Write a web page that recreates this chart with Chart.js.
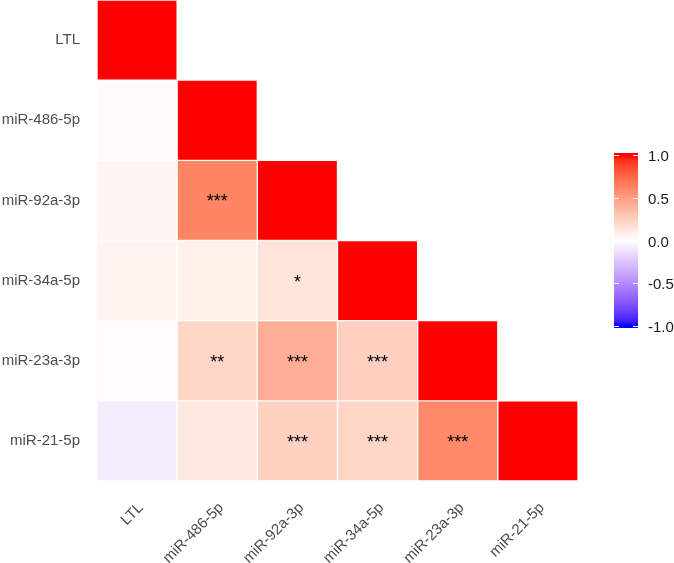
<!DOCTYPE html>
<html>
<head>
<meta charset="utf-8">
<script src="https://cdn.jsdelivr.net/npm/chart.js@4.4.1/dist/chart.umd.min.js"></script>
<style>
  html, body { margin: 0; padding: 0; background: #fff; }
  #wrap { width: 674px; height: 563px; position: relative; }
</style>
</head>
<body>
<div id="wrap"><canvas id="chartCorr"></canvas></div>
<script>
// variáveis (linhas de cima para baixo, colunas da esquerda para a direita)
const VARS = ['LTL', 'miR-486-5p', 'miR-92a-3p', 'miR-34a-5p', 'miR-23a-3p', 'miR-21-5p'];

// correlações do triângulo inferior, uma linha por variável
const R_LTL   = [1];
const R_486   = [0.03, 1];
const R_92A   = [0.05, 0.62, 1];
const R_34A   = [0.06, 0.08, 0.15, 1];
const R_23A   = [0.02, 0.22, 0.42, 0.25, 1];
const R_21    = [-0.08, 0.12, 0.24, 0.22, 0.60, 1];
const CORR = [R_LTL, R_486, R_92A, R_34A, R_23A, R_21];

// asteriscos de significância
const S_LTL = [''];
const S_486 = ['', ''];
const S_92A = ['', '***', ''];
const S_34A = ['', '', '*', ''];
const S_23A = ['', '**', '***', '***', ''];
const S_21  = ['', '', '***', '***', '***', ''];
const STARS = [S_LTL, S_486, S_92A, S_34A, S_23A, S_21];

const LEGEND_TICKS = [1.0, 0.5, 0.0, -0.5, -1.0];

/** Escala azul-branco-vermelho interpolada em Lab (como gradient2) */
function srgbToLin(c) { c /= 255; return c <= 0.04045 ? c / 12.92 : Math.pow((c + 0.055) / 1.055, 2.4); }
function linToSrgb(c) { c = c <= 0.0031308 ? 12.92 * c : 1.055 * Math.pow(c, 1 / 2.4) - 0.055; return Math.round(Math.max(0, Math.min(1, c)) * 255); }
function rgbToLab([r, g, b]) {
  r = srgbToLin(r); g = srgbToLin(g); b = srgbToLin(b);
  let x = (0.4124 * r + 0.3576 * g + 0.1805 * b) / 0.95047;
  let y = (0.2126 * r + 0.7152 * g + 0.0722 * b);
  let z = (0.0193 * r + 0.1192 * g + 0.9505 * b) / 1.08883;
  const f = t => t > 0.008856 ? Math.cbrt(t) : 7.787 * t + 16 / 116;
  x = f(x); y = f(y); z = f(z);
  return [116 * y - 16, 500 * (x - y), 200 * (y - z)];
}
function labToRgb([L, a, b]) {
  let y = (L + 16) / 116, x = a / 500 + y, z = y - b / 200;
  const fi = t => t * t * t > 0.008856 ? t * t * t : (t - 16 / 116) / 7.787;
  x = fi(x) * 0.95047; y = fi(y); z = fi(z) * 1.08883;
  const r =  3.2406 * x - 1.5372 * y - 0.4986 * z;
  const g = -0.9689 * x + 1.8758 * y + 0.0415 * z;
  const bb = 0.0557 * x - 0.2040 * y + 1.0570 * z;
  return [linToSrgb(r), linToSrgb(g), linToSrgb(bb)];
}
const LAB_RED   = rgbToLab([255, 0, 0]);
const LAB_WHITE = rgbToLab([255, 255, 255]);
const LAB_BLUE  = rgbToLab([0, 0, 255]);
function corrColor(v) {
  const end = v >= 0 ? LAB_RED : LAB_BLUE;
  const t = Math.min(1, Math.abs(v));
  const lab = LAB_WHITE.map((w, k) => w + (end[k] - w) * t);
  const [r, g, b] = labToRgb(lab);
  return `rgb(${r},${g},${b})`;
}

// um dataset por linha; barras flutuantes [i-0.5, i+0.5]
const datasets = CORR.map((row, i) => ({
  label: VARS[i],
  data: VARS.map((_, j) => (j < row.length ? [i - 0.5, i + 0.5] : null)),
  backgroundColor: VARS.map((_, j) => (j < row.length ? corrColor(row[j]) : 'transparent')),
  borderColor: 'rgba(255,255,255,0.55)',
  borderWidth: 1,
  borderSkipped: false,
  grouped: false,
  barPercentage: 1,
  categoryPercentage: 1,
}));

const starsPlugin = {
  id: 'stars',
  afterDatasetsDraw(chart) {
    const ctx = chart.ctx;
    ctx.save();
    ctx.font = "18px 'Liberation Sans', Arial, sans-serif";
    ctx.fillStyle = '#000';
    ctx.textAlign = 'center';
    ctx.textBaseline = 'middle';
    STARS.forEach((row, i) => {
      const meta = chart.getDatasetMeta(i);
      row.forEach((s, j) => {
        if (!s) return;
        const el = meta.data[j];
        const cy = (el.y + el.base) / 2;
        ctx.fillText(s, el.x, cy + 2);
      });
    });
    ctx.restore();
  },
};

const colorbarPlugin = {
  id: 'colorbar',
  afterDraw(chart) {
    const ctx = chart.ctx;
    const left = 614, width = 24, top = 153, bottom = 328;
    const yOf = v => 240.5 - v * 85.5;
    const grad = ctx.createLinearGradient(0, yOf(1), 0, yOf(-1));
    for (let k = 0; k <= 40; k++) {
      const v = 1 - k / 20;
      grad.addColorStop(k / 40, corrColor(v));
    }
    ctx.save();
    ctx.fillStyle = grad;
    ctx.fillRect(left, top, width, bottom - top);
    ctx.strokeStyle = '#fff';
    ctx.lineWidth = 1;
    ctx.font = "15px 'Liberation Sans', Arial, sans-serif";
    ctx.fillStyle = '#1A1A1A';
    ctx.textAlign = 'left';
    ctx.textBaseline = 'middle';
    LEGEND_TICKS.forEach(v => {
      const y = Math.round(yOf(v)) + 0.5;
      ctx.beginPath();
      ctx.moveTo(left, y); ctx.lineTo(left + 5, y);
      ctx.moveTo(left + width - 5, y); ctx.lineTo(left + width, y);
      ctx.stroke();
      ctx.fillText(v.toFixed(1), 648, y + 1);
    });
    ctx.restore();
  },
};

const noPad = s => { s.paddingTop = 0; s.paddingBottom = 0; s.paddingLeft = 0; s.paddingRight = 0; };

new Chart(document.getElementById('chartCorr'), {
  type: 'bar',
  data: { labels: VARS, datasets },
  options: {
    responsive: true, maintainAspectRatio: false,
    animation: false,
    layout: { padding: { top: 0, right: 96, bottom: 0, left: 0 } },
    plugins: { legend: { display: false }, tooltip: { enabled: false } },
    scales: {
      x: {
        type: 'category',
        offset: true,
        grid: { display: false, drawTicks: false },
        border: { display: false },
        ticks: {
          color: '#4D4D4D', font: { family: "'Liberation Sans', Arial, sans-serif", size: 15 },
          minRotation: 45, maxRotation: 45, padding: 18, labelOffset: 4, autoSkip: false,
        },
        afterFit: s => { s.height = 82; noPad(s); },
      },
      y: {
        type: 'linear', min: -0.5, max: 5.5, reverse: true,
        grid: { display: false, drawTicks: false },
        border: { display: false },
        afterBuildTicks: s => { s.ticks = VARS.map((_, i) => ({ value: i })); },
        ticks: {
          color: '#4D4D4D', font: { family: "'Liberation Sans', Arial, sans-serif", size: 15 },
          padding: 17,
          callback: v => VARS[v],
        },
        afterFit: s => { s.width = 97; noPad(s); },
      },
    },
  },
  plugins: [starsPlugin, colorbarPlugin],
});
</script>
</body>
</html>
